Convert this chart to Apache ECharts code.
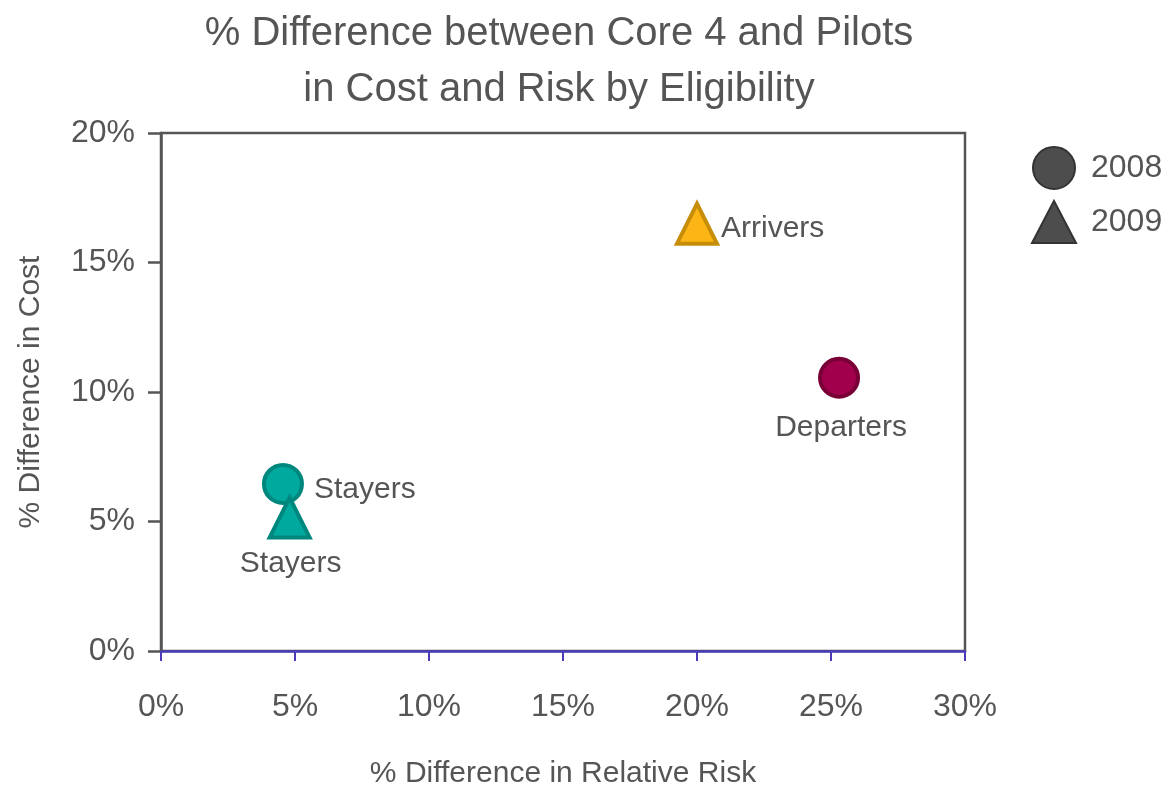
<!DOCTYPE html>
<html>
<head>
<meta charset="utf-8">
<script src="https://cdn.jsdelivr.net/npm/echarts@6/dist/echarts.min.js"></script>
<style>
  html, body { margin: 0; padding: 0; background: #fff; }
  #chart { width: 1163px; height: 789px; }
</style>
</head>
<body>
<div id="chart"></div>
<script>
// Eligibility groups, per year: [relative risk %, cost %]
const groups2008 = ['Stayers', 'Departers'];
const risk2008 = [4.55, 25.3];
const cost2008 = [6.45, 10.55];

const groups2009 = ['Stayers', 'Arrivers'];
const risk2009 = [4.8, 20.0];
const cost2009 = [5.15, 16.5];

const xTicks = [0, 5, 10, 15, 20, 25, 30];
const yTicks = [0, 5, 10, 15, 20];

const FONT = "'Liberation Sans', Arial, sans-serif";
const TEXT = '#555';

const groupStyle = {
  Stayers:   { color: '#00a99d', borderColor: '#00877d' },
  Departers: { color: '#a1004c', borderColor: '#780036' },
  Arrivers:  { color: '#fdb515', borderColor: '#c68e08' }
};
const labelOpts = {
  '2008': {
    Stayers:   { position: 'right', distance: 10, offset: [0, 6] },
    Departers: { position: 'bottom', distance: 10, offset: [2, 4] }
  },
  '2009': {
    Stayers:   { position: 'bottom', distance: 6, offset: [1, 3] },
    Arrivers:  { position: 'right', distance: 2, offset: [0, 5] }
  }
};

function points(year, names, xs, ys) {
  return names.map((n, i) => ({
    name: n,
    value: [xs[i], ys[i]],
    itemStyle: Object.assign({ borderWidth: 4, opacity: 1 }, groupStyle[n]),
    label: labelOpts[year][n]
  }));
}

const chart = echarts.init(document.getElementById('chart'));
chart.setOption({
  animation: false,
  title: {
    text: '% Difference between Core 4 and Pilots\nin Cost and Risk by Eligibility',
    left: 554,
    top: 1,
    textAlign: 'center',
    textStyle: { fontFamily: FONT, fontSize: 40, fontWeight: 'normal', color: TEXT, lineHeight: 56 }
  },
  legend: {
    orient: 'vertical',
    left: 1026,
    top: 141,
    itemWidth: 44,
    itemHeight: 42,
    itemGap: 10,
    textStyle: { fontFamily: FONT, fontSize: 32, color: TEXT, padding: [0, 0, 0, 10] },
    data: ['2008', '2009']
  },
  grid: {
    left: 161, right: 198, top: 133, bottom: 138,
    outerBoundsMode: 'none',
    containLabel: false,
    show: true, borderColor: '#555', borderWidth: 2.5, backgroundColor: 'transparent'
  },
  xAxis: {
    type: 'value',
    min: xTicks[0], max: xTicks[xTicks.length - 1], interval: 5,
    name: '% Difference in Relative Risk',
    nameLocation: 'middle',
    nameGap: 108,
    nameTextStyle: { fontFamily: FONT, fontSize: 30, color: TEXT },
    axisLine: { show: true, lineStyle: { color: '#4a3cb8', width: 2.5 } },
    axisTick: { show: true, length: 10, lineStyle: { color: '#4a3cb8', width: 2 } },
    axisLabel: { formatter: '{value}%', margin: 40, fontFamily: FONT, fontSize: 32, color: TEXT },
    splitLine: { show: false }
  },
  yAxis: {
    type: 'value',
    min: yTicks[0], max: yTicks[yTicks.length - 1], interval: 5,
    name: '% Difference in Cost',
    nameLocation: 'middle',
    nameGap: 115,
    nameTextStyle: { fontFamily: FONT, fontSize: 30, color: TEXT },
    axisLine: { show: true, lineStyle: { color: '#555', width: 2.5 } },
    axisTick: { show: true, length: 13, lineStyle: { color: '#555', width: 2.5 } },
    axisLabel: { formatter: '{value}%', margin: 26, fontFamily: FONT, fontSize: 32, color: TEXT },
    splitLine: { show: false }
  },
  series: [
    {
      name: '2008',
      type: 'scatter',
      symbol: 'circle',
      symbolSize: 38,
      itemStyle: { color: '#4d4d4d', borderColor: '#333', borderWidth: 4, opacity: 1 },
      label: {
        show: true, formatter: '{b}',
        fontFamily: FONT, fontSize: 30, color: TEXT
      },
      data: points('2008', groups2008, risk2008, cost2008)
    },
    {
      name: '2009',
      type: 'scatter',
      symbol: 'triangle',
      symbolSize: [40, 40],
      itemStyle: { color: '#4d4d4d', borderColor: '#333', borderWidth: 4, opacity: 1 },
      label: {
        show: true, formatter: '{b}',
        fontFamily: FONT, fontSize: 30, color: TEXT
      },
      data: points('2009', groups2009, risk2009, cost2009)
    }
  ]
});
</script>
</body>
</html>
